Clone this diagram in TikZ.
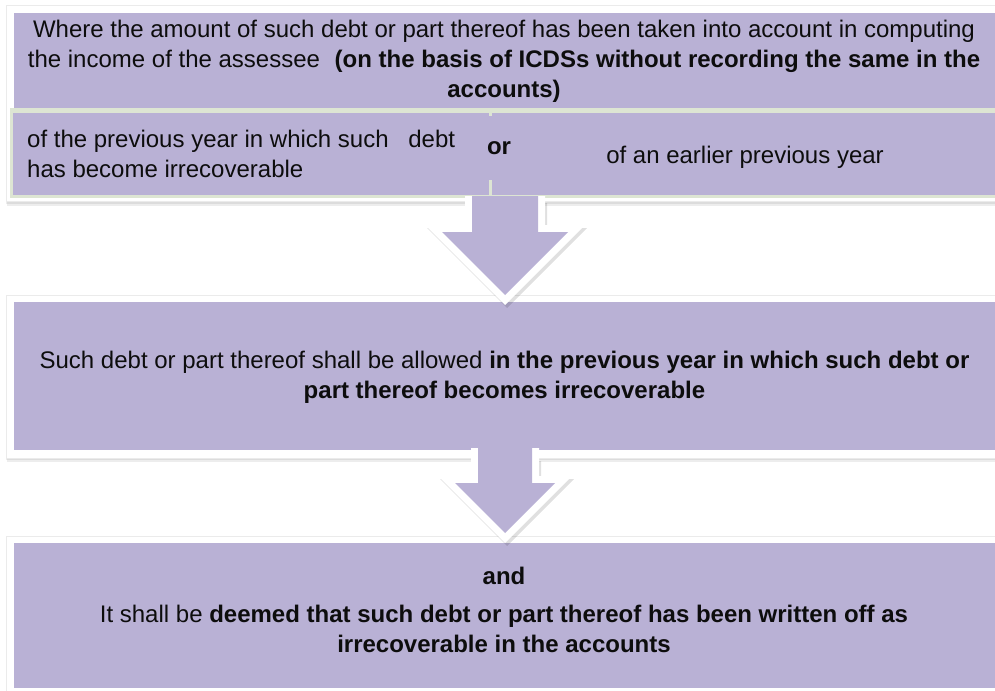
\documentclass[tikz,border=0pt]{standalone}
\usepackage{fontspec}
\setmainfont{Liberation Sans}
\begin{document}
\begin{tikzpicture}[x=1bp,y=-1bp,
  txt/.style={inner sep=0pt, font=\fontsize{24bp}{30bp}\selectfont, text=black!95, align=center},
  frameshadow/.style={fill=black, opacity=0.07},
  whiteframe/.style={fill=white, draw=black!8, line width=0.6bp},
  cell/.style={draw=grn, line width=3bp, fill=pur},
]
\definecolor{pur}{RGB}{185,177,213}
\definecolor{grn}{RGB}{221,229,211}
\useasboundingbox (0,0) rectangle (995,691);
\fill[white] (0,0) rectangle (995,691);

% ---------- top frame ----------
\fill[frameshadow] (7,9) rectangle (1005,206);
\fill[frameshadow] (6,7) rectangle (1005,203.5);
\filldraw[whiteframe] (6,5) rectangle (1005,201);
\fill[pur] (14,13) rectangle (1005,108);
\fill[grn] (10,108) rectangle (1005,113);
\filldraw[cell] (11.5,111.5) rectangle (490,196.5);
\filldraw[cell] (490,111.5) rectangle (1010,196.5);

% ---------- middle frame ----------
\fill[frameshadow] (7,299) rectangle (1005,462);
\fill[frameshadow] (6,297) rectangle (1005,460);
\filldraw[whiteframe] (6,295) rectangle (1005,458);
\fill[pur] (14,302) rectangle (1005,450);

% ---------- bottom frame ----------
\fill[frameshadow] (6,538) rectangle (1005,700);
\filldraw[whiteframe] (6,536) rectangle (1005,700);
\fill[pur] (14,543) rectangle (1005,688);

% ---------- block arrow 1 ----------
\fill[black,opacity=0.12] (467,203) -- (467,228) -- (427,228) -- (507,308) -- (587,228) -- (547,228) -- (547,203) -- cycle;
\fill[white] (465,196) -- (465,225) -- (425,225) -- (505,305) -- (585,225) -- (545,225) -- (545,196) -- cycle;
\fill[pur] (472,196) -- (472,232) -- (442,232) -- (505,295) -- (568,232) -- (538,232) -- (538,196) -- cycle;

% ---------- block arrow 2 ----------
\fill[black,opacity=0.12] (473,461) -- (473,479) -- (440,479) -- (507,546) -- (574,479) -- (541,479) -- (541,461) -- cycle;
\fill[white] (471,448) -- (471,476) -- (438,476) -- (505,543) -- (572,476) -- (539,476) -- (539,448) -- cycle;
\fill[pur] (478,448) -- (478,483) -- (455,483) -- (505,533) -- (555,483) -- (532,483) -- (532,448) -- cycle;

% ---------- texts ----------
\node[txt] (t1) at (504,61) {Where the amount of such debt or part thereof has been taken into account in computing\\
the income of the assessee\hspace{8bp} \textbf{(on the basis of ICDSs without recording the same in the}\\
\textbf{accounts)}};

\node[txt, align=left, anchor=west] (t2) at (27,154) {of the previous year in which such\hspace{13bp} debt\\has become irrecoverable};

\node[txt, fill=pur, minimum height=64bp, inner xsep=3bp] (or) at (499,148) {\textbf{or}};

\node[txt] (t3) at (745,157) {of an earlier previous year};

\node[txt] (t4) at (504.5,377) {Such debt or part thereof shall be allowed \textbf{in the previous year in which such debt or}\\
\textbf{part thereof becomes irrecoverable}};

\node[txt] (t5) at (504,610) {\textbf{and}\\[8bp]
It shall be \textbf{deemed that such debt or part thereof has been written off as}\\
\textbf{irrecoverable in the accounts}};
\end{tikzpicture}
\end{document}
